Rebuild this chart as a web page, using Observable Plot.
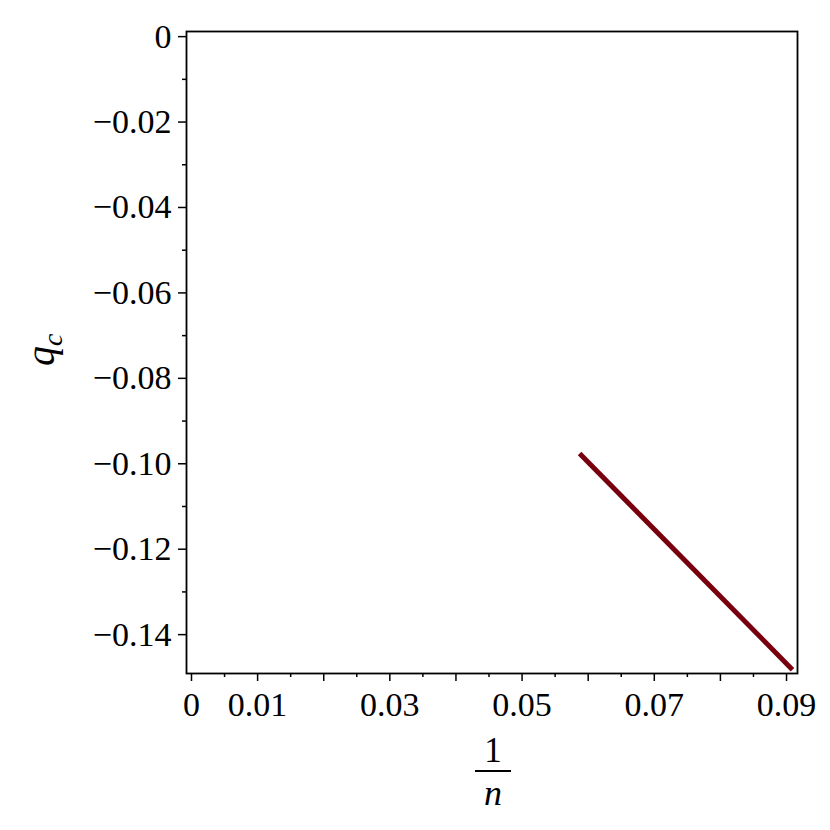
<!DOCTYPE html>
<html><head><meta charset="utf-8">
<script src="https://cdn.jsdelivr.net/npm/d3@7"></script>
<script src="https://cdn.jsdelivr.net/npm/@observablehq/plot@0.6"></script>
<style>body{margin:0;background:#fff}</style>
</head><body><div id="chart"></div>
<script>
// Data
const invN = [0.0587, 0.0909];
const qc = [-0.0976, -0.1482];

// Tick values
const xMajorTicks = [0, 0.01, 0.02, 0.03, 0.04, 0.05, 0.06, 0.07, 0.08, 0.09];
const xLabeledTicks = [0, 0.01, 0.03, 0.05, 0.07, 0.09];
const xMinorTicks = [0.005, 0.015, 0.025, 0.035, 0.045, 0.055, 0.065, 0.075, 0.085];
const yMajorTicks = [0, -0.02, -0.04, -0.06, -0.08, -0.10, -0.12, -0.14];
const yMinorTicks = [-0.01, -0.03, -0.05, -0.07, -0.09, -0.11, -0.13];

const data = invN.map((x, i) => ({x, y: qc[i]}));
const fmtX = d => d === 0 ? "0" : String(d);
const fmtY = d => d === 0 ? "0" : d3.format(".2f")(d);

const plot = Plot.plot({
  width: 830, height: 830,
  marginLeft: 186, marginRight: 33, marginTop: 31, marginBottom: 157,
  style: {fontFamily: "'Liberation Serif', 'Times New Roman', serif", fontSize: "34px", color: "#000", background: "#fff"},
  x: {domain: [-0.000756, 0.09166]},
  y: {domain: [-0.1491, 0.0012]},
  marks: [
    Plot.axisX({ticks: xMinorTicks, tickSize: 4, tickFormat: () => "", label: null, strokeWidth: 1.5}),
    Plot.axisX({ticks: xMajorTicks, tickSize: 8, tickPadding: 10, tickFormat: d => xLabeledTicks.includes(d) ? fmtX(d) : "", label: null, strokeWidth: 1.5}),
    Plot.axisY({ticks: yMinorTicks, tickSize: 4, tickFormat: () => "", label: null, strokeWidth: 1.5}),
    Plot.axisY({ticks: yMajorTicks, tickSize: 8, tickPadding: 7, tickFormat: fmtY, label: null, strokeWidth: 1.5}),
    Plot.frame({stroke: "#000", strokeWidth: 1.8}),
    Plot.line(data, {x: "x", y: "y", stroke: "#78000E", strokeWidth: 5, strokeLinecap: "butt"})
  ]
});

const svg = d3.select(plot);
const font = "'Liberation Serif', 'Times New Roman', serif";
const yl = svg.append("text")
  .attr("transform", "translate(54,366) rotate(-90)")
  .attr("text-anchor", "start")
  .attr("font-family", font).attr("font-size", "40px").attr("font-style", "italic").attr("fill", "#000");
yl.append("tspan").text("q");
yl.append("tspan").attr("font-size", "28px").attr("dy", "8").text("c");

svg.append("text").attr("x", 493).attr("y", 762).attr("text-anchor", "middle")
  .attr("font-family", font).attr("font-size", "35px").attr("fill", "#000").text("1");
svg.append("line").attr("x1", 475).attr("x2", 511).attr("y1", 771).attr("y2", 771)
  .attr("stroke", "#000").attr("stroke-width", 1.8);
svg.append("text").attr("x", 493).attr("y", 805).attr("text-anchor", "middle")
  .attr("font-family", font).attr("font-size", "36px").attr("font-style", "italic").attr("fill", "#000").text("n");

document.getElementById("chart").appendChild(plot);
</script>
</body></html>
